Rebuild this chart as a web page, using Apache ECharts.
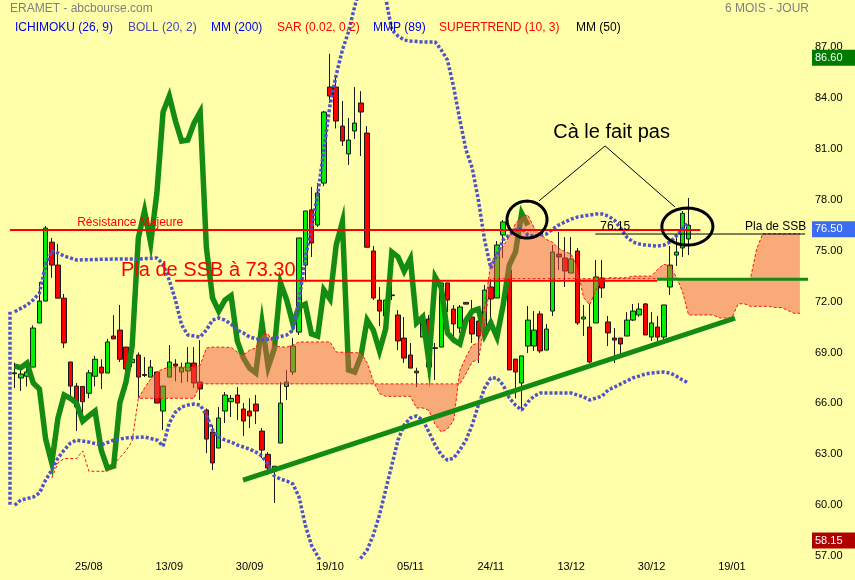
<!DOCTYPE html>
<html><head><meta charset="utf-8">
<script src="https://cdn.jsdelivr.net/npm/echarts@6/dist/echarts.min.js"></script>
<style>html,body{margin:0;padding:0;background:#FFFFAA;}#c{width:855px;height:580px;}</style>
</head><body><div id="c"></div>
<script>
// ---- tick labels (x axis: trading-day index) ----
const tickPos = [12, 25, 38, 51, 64, 77, 90, 103, 116];
const tickLabels = ['25/08', '13/09', '30/09', '19/10', '05/11', '24/11', '13/12', '30/12', '19/01'];
const yTicks = [57, 60, 63, 66, 69, 72, 75, 78, 81, 84, 87];

// ---- daily candles ----
const opens = [67.75,67.5,67.6,68.14,70.74,72.03,75.5,74.15,72.2,68.44,67.02,67.0,66.6,67.6,68.14,67.79,69.97,70.32,69.32,68.4,
68.85,67.7,67.55,67.85,65.55,67.55,68.32,67.85,67.91,68.38,67.26,65.61,64.31,63.37,65.55,66.1,66.49,65.67,65.55,65.96,
64.37,63.0,62.0,63.66,67.0,67.85,70.2,74.15,77.4,76.51,78.98,84.64,84.64,82.34,80.7,82.05,83.7,81.93,74.98,72.09,
71.15,72.39,71.21,69.85,68.85,67.9,69.91,70.97,69.28,69.32,73.1,71.56,70.44,71.95,71.09,70.85,70.15,72.86,72.21,75.92,
73.86,68.61,67.2,69.38,69.38,71.27,69.14,71.44,74.8,74.57,73.68,74.98,70.97,70.5,70.74,73.39,70.8,69.85,69.85,69.97,
70.91,71.21,71.86,69.91,70.5,69.91,72.86,74.74,75.16,75.69];
const closes = [67.8,67.73,67.85,70.44,72.03,76.33,74.15,72.2,69.56,67.02,65.79,66.1,67.8,68.6,67.79,69.62,69.8,68.6,68.03,68.6,
67.55,67.65,68.14,66.02,67.02,68.44,68.2,68.1,68.38,67.2,66.85,63.9,62.49,65.14,66.49,66.3,66.02,64.96,65.26,65.55,
63.25,62.19,62.3,66.02,67.26,69.38,75.75,77.34,75.45,78.4,83.17,84.11,82.64,81.46,81.52,82.52,83.17,75.2,72.21,71.44,
72.09,72.35,69.68,68.67,68.08,67.8,70.74,68.14,69.24,73.1,72.09,70.68,71.68,71.85,70.09,69.97,72.68,72.15,75.33,76.69,
67.97,67.85,68.8,70.91,70.32,69.09,70.38,74.92,74.63,73.8,74.51,70.74,71.09,68.44,73.45,72.8,70.15,69.73,69.5,70.91,
71.44,71.56,70.03,70.74,69.91,71.8,74.15,74.92,77.2,76.5];
const lows = [66.9,66.73,67.0,68.14,70.74,72.03,73.4,72.2,69.26,66.43,64.37,65.3,66.3,67.0,66.85,67.79,69.8,68.44,67.9,68.14,
66.3,67.55,67.55,66.02,64.43,67.55,67.3,67.2,67.26,66.9,66.2,63.07,62.07,63.37,64.84,65.2,65.02,64.08,64.55,64.78,
62.78,61.78,60.13,63.66,66.2,67.67,70.03,73.15,74.63,76.4,78.8,83.7,82.2,81.17,80.05,81.58,80.58,75.2,72.09,70.56,
71.15,72.09,69.14,68.38,68.08,66.96,69.91,67.55,67.38,69.32,71.38,69.97,70.15,71.85,69.56,68.38,70.15,71.03,72.21,74.57,
67.97,66.3,65.61,68.97,69.09,68.97,69.14,71.15,73.86,72.86,73.68,70.62,69.97,68.38,70.74,72.21,69.38,68.38,68.85,69.97,
70.85,71.1,70.03,69.68,69.62,69.7,72.39,74.1,74.63,74.74];
const highs = [68.4,68.14,68.4,70.6,73.15,76.45,75.75,75.4,72.45,68.44,67.2,67.0,67.97,68.8,68.6,69.8,71.2,71.8,69.32,68.97,
69.0,68.73,68.56,67.85,67.02,69.44,68.6,68.4,69.32,69.32,69.73,65.7,64.73,65.79,66.67,66.5,66.96,66.02,66.3,66.5,
64.55,63.13,62.3,67.26,67.97,69.85,75.75,77.34,78.75,78.98,83.23,86.6,85.35,83.82,82.82,84.64,84.4,82.34,75.27,72.86,
72.09,73.45,71.5,71.09,69.56,68.1,71.2,71.21,69.56,73.1,73.1,71.8,71.8,71.95,72.09,71.09,72.98,73.33,75.57,76.81,
73.86,68.61,68.8,71.74,71.44,71.44,70.68,75.33,76.1,75.8,75.8,75.16,71.8,71.86,74.45,74.45,71.15,70.44,69.85,71.38,
71.86,71.91,71.91,71.38,71.15,71.8,75.27,75.8,77.34,78.1];
const chikouLag = 26;

// ---- Bollinger (20, 2) as read: [index, value] ----
const bollUpper = [[0,71.4],[2,71.8],[3,72.1],[4,72.5],[5,74.15],[6,74.98],[7,74.86],[8,74.68],[9,74.57],[10,74.45],[15,74.5],[20,74.51],
[23,74.57],[24,74.2],[25,73.27],[26,72.09],[27,70.62],[28,70.03],[30,69.91],[31,70.32],[32,70.91],[33,71.03],[34,70.91],[35,70.68],
[36,70.32],[37,70.15],[38,69.91],[40,69.73],[42,69.85],[44,70.03],[45,70.32],[46,72.09],[47,74.57],[48,76.33],[49,78.28],[50,80.93],
[51,83.58],[52,85.35],[53,86.82],[54,87.9],[55,89.4],[56,90.6],[57,91.2],[58,91.3],[59,90.8],[60,89.9],[61,88.0],[62,87.65],[63,87.41],
[64,87.35],[66,87.3],[68,87.3],[69,86.82],[70,86.23],[71,84.64],[72,82.7],[73,80.93],[74,79.87],[75,77.98],[76,75.63],[77,73.98],
[78,74.74],[79,75.63],[80,75.92],[81,76.22],[82,76.33],[83,75.92],[84,75.86],[86,75.98],[87,76.27],[88,76.51],[89,76.69],[90,76.86],
[91,76.98],[92,77.04],[93,77.1],[94,77.16],[95,77.16],[96,77.04],[97,76.8],[98,76.33],[99,75.8],[100,75.51],[101,75.39],[102,75.33],
[104,75.27],[105,75.33],[106,75.51],[107,75.86],[108,76.27],[109,76.69]];
const bollLower = [[0,60.0],[1,60.31],[3,60.48],[4,60.72],[5,61.48],[6,62.07],[7,62.78],[8,63.25],[9,63.66],[10,63.84],[12,63.72],[14,63.55],
[16,63.84],[18,63.96],[21,64.02],[23,63.84],[24,63.49],[25,64.84],[26,65.49],[27,65.79],[28,65.9],[29,65.96],[30,65.9],[31,65.32],
[32,64.43],[33,64.02],[34,63.84],[35,63.72],[36,63.55],[37,63.43],[38,63.31],[39,63.13],[40,62.9],[41,62.37],[42,61.72],[43,61.54],
[44,61.43],[45,61.25],[46,60.48],[47,58.83],[48,57.65],[49,57.0],[50,56.3],[51,55.9],[52,55.7],[53,55.9],[54,56.1],[55,56.4],
[56,56.89],[57,57.36],[58,58.24],[59,59.42],[60,60.9],[61,62.37],[62,63.84],[63,64.73],[64,65.14],[65,65.26],[66,65.02],[67,64.31],
[68,63.55],[69,62.96],[70,62.66],[71,62.78],[72,63.25],[73,63.84],[74,64.73],[75,65.9],[76,66.9],[77,67.5],[78,67.5],[79,67.08],
[80,66.32],[81,65.9],[82,65.61],[83,66.08],[84,66.43],[85,66.61],[90,66.61],[92,66.38],[93,66.2],[95,66.43],[96,66.79],[97,66.96],
[98,67.14],[99,67.32],[100,67.5],[101,67.61],[102,67.73],[103,67.79],[105,67.85],[106,67.79],[107,67.61],[108,67.38],[109,67.2]];

// ---- Ichimoku cloud spans as read: [index, value] ----
const ssb = [[6,61.6],[7,62.5],[8,62.75],[10,62.75],[11,63.2],[12,62.0],[15,62.0],[16,62.4],[17,62.8],[18,63.2],[19,63.8],[20,66.3],
[29,66.3],[30,67.15],[72,67.15],[73,67.75],[74,68.45],[75,68.57],[76,70.69],[77,73.35],[119,73.35],[120,75.1],[121,76.0],[127,76.0]];
const ssa = [[20,66.3],[21,66.9],[22,67.44],[23,67.85],[24,68.03],[25,68.14],[29,68.14],[30,68.26],[31,69.26],[32,69.32],[35,69.3],
[36,69.03],[37,68.85],[38,69.14],[39,69.26],[40,70.03],[41,70.09],[42,69.44],[43,69.32],[44,69.32],[45,69.44],[46,69.62],[51,69.62],
[52,69.03],[56,68.97],[57,68.4],[58,67.32],[59,66.58],[60,66.42],[64,66.42],[65,65.73],[66,65.73],[67,65.58],[68,64.76],[69,64.31],
[70,64.49],[71,64.99],[72,67.94],[73,68.74],[74,69.44],[75,69.56],[76,71.68],[77,74.25],[78,74.88],[79,75.25],[80,75.85],[81,76.6],
[82,77.0],[83,77.1],[84,76.36],[85,75.98],[86,75.66],[87,75.5],[88,75.13],[89,74.94],[90,74.8],[91,74.0],[92,72.24],[93,71.8],
[94,72.67],[95,73.3],[96,73.4],[99,73.4],[100,73.5],[103,73.5],[104,73.9],[105,74.2],[106,74.1],[107,73.45],[108,72.6],[109,71.21],
[113,71.21],[114,71.03],[116,71.03],[117,71.87],[118,71.87],[119,71.72],[122,71.72],[123,71.65],[124,71.65],[125,71.49],[126,71.31],[127,71.31]];

// ---- legend / header texts ----
const legendItems = [['ICHIMOKU (26, 9)','#0000e6',15],['BOLL (20, 2)','#4848b0',128],['MM (200)','#0000e6',211],
['SAR (0.02, 0.2)','#ff0000',277],['MMP (89)','#0000e6',373],['SUPERTREND (10, 3)','#ff0000',439],['MM (50)','#000000',576]];
const priceTags = [[86.60,'#007a00'],[76.50,'#3c6cf0'],[58.15,'#b00000']];

const FONT = '"Liberation Sans", Arial, sans-serif';
const chart = echarts.init(document.getElementById('c'), null, {renderer:'canvas'});

const candleData = opens.map((o, i) => [i, o, closes[i], lows[i], highs[i]]);
const chikou = closes.slice(chikouLag).map((c, k) => [k, c]);

const option = {
  animation: false,
  backgroundColor: '#FFFFAA',
  textStyle: {fontFamily: FONT},
  grid: {left: 11.6, right: 52, top: 0, bottom: 22},
  xAxis: {
    type: 'value', min: -0.5, max: 127.5,
    axisLine: {show: false}, axisTick: {show: false}, splitLine: {show: false},
    axisLabel: {customValues: tickPos, formatter: v => tickLabels[tickPos.indexOf(Math.round(v))] || '',
      fontSize: 11, color: '#000', margin: 3, fontFamily: FONT}
  },
  yAxis: {
    type: 'value', position: 'right', min: 56.89, max: 89.77, scale: true,
    axisLine: {show: false}, axisTick: {show: false}, splitLine: {show: false},
    axisLabel: {customValues: yTicks, formatter: v => v.toFixed(2), fontSize: 11, color: '#000', margin: 12, fontFamily: FONT}
  },
  series: [
    {type: 'candlestick', data: candleData, encode: {x: 0, y: [1, 2, 3, 4]}, barWidth: 5, z: 2,
     itemStyle: {color: '#00f000', color0: '#ff0000', borderColor: '#1a1a1a', borderColor0: '#1a1a1a', borderColorDoji: '#1a1a1a', borderWidth: 1}},
    {type: 'line', data: chikou, showSymbol: false, z: 3,
     lineStyle: {color: '#148c14', width: 5.5, join: 'miter'}},
    {type: 'custom', coordinateSystem: 'cartesian2d', z: 4, silent: true, data: [[0, 70]],
     renderItem: (params, api) => {
       const top = ssa.map(p => api.coord(p));
       const bot = ssb.filter(p => p[0] >= 20).map(p => api.coord(p)).reverse();
       return {type: 'polygon', shape: {points: top.concat(bot)}, style: {fill: 'rgba(241,85,70,0.5)'}};
     }},
    {type: 'line', data: ssa, showSymbol: false, z: 5, lineStyle: {color: '#ff1010', width: 1, type: [3, 2]}},
    {type: 'line', data: ssb, showSymbol: false, z: 5, lineStyle: {color: '#ff1010', width: 1, type: [3, 2]}},
    {type: 'line', data: bollUpper, showSymbol: false, z: 6, lineStyle: {color: '#5252c8', width: 3.5, type: [3, 2]}},
    {type: 'line', data: bollLower, showSymbol: false, z: 6, lineStyle: {color: '#5252c8', width: 3.5, type: [3, 2]}}
  ]
};
chart.setOption(option);

// ---- annotations drawn through the axes' own conversion ----
const P = (x, y) => chart.convertToPixel({gridIndex: 0}, [x, y]);
const g = [];
const txt = (text, x, y, color, size, align) => g.push({type: 'text', z: 100,
  style: {text, x, y, fill: color, font: size + 'px ' + FONT, textAlign: align || 'left', textVerticalAlign: 'middle'}});
const line = (a, b, color, w, dash) => g.push({type: 'line', z: 100,
  shape: {x1: a[0], y1: a[1], x2: b[0], y2: b[1]}, style: {stroke: color, lineWidth: w, lineDash: dash || null}});
const ell = (cx, cy, rx, ry) => {
  const c = P(cx, cy); const pts = [];
  for (let k = 0; k < 72; k++) { const t = k / 72 * Math.PI * 2; pts.push([c[0] + rx * Math.cos(t), c[1] + ry * Math.sin(t)]); }
  g.push({type: 'polygon', z: 100, shape: {points: pts}, style: {fill: 'none', stroke: '#000', lineWidth: 3}});
};

txt('ERAMET - abcbourse.com', 10, 9, '#7f7f7f', 12);
txt('6 MOIS - JOUR', 809, 9, '#7f7f7f', 12, 'right');
legendItems.forEach(([t, c, x]) => txt(t, x, 27.5, c, 12));

// Bollinger left edge
const bl0 = P(0, 71.4), bl1 = P(0, 60.0);
line([10, bl0[1]], [10, bl1[1]], '#5252c8', 3.5, [3, 2]);

// resistance
line([10, P(0, 76.22)[1]], P(110.9, 76.22), '#ff0000', 2);
txt('Résistance Majeure', P(10.1, 0)[0], P(0, 76.65)[1], '#ff0000', 12);
// SSB plateau
line(P(25.95, 73.23), P(103.9, 73.23), '#ff0000', 2);
txt('Pla de SSB à 73.30', P(17.2, 0)[0], P(0, 73.86)[1], '#ff0000', 20);
line(P(103.9, 73.32), [808, P(0, 73.32)[1]], '#138a13', 3);
// trend line
line(P(36.93, 61.48), P(116.5, 71.03), '#138a13', 5);
// future SSB
line(P(93.9, 75.98), [805, P(0, 75.98)[1]], '#000', 1);
txt('76.15', P(94.7, 0)[0], P(0, 76.39)[1], '#000', 12);
txt('Pla de SSB', 745, P(0, 76.39)[1], '#000', 12);
// comment
txt('Cà le fait pas', P(87.1, 0)[0], P(0, 81.99)[1], '#000', 20);
line(P(95.5, 81.17), P(84.8, 77.93), '#000', 1);
line(P(95.5, 81.17), P(106.8, 77.57), '#000', 1);
ell(82.86, 76.83, 20, 18.5);
ell(108.8, 76.42, 25.5, 18.5);

// price tags on the right axis
priceTags.forEach(([v, c]) => {
  const y = P(0, v)[1];
  g.push({type: 'rect', z: 100, shape: {x: 812, y: y - 4, width: 43, height: 16}, style: {fill: c}});
  txt(v.toFixed(2), 815, y + 4, '#ffffff', 11);
});

chart.setOption({graphic: {elements: g}});
</script></body></html>
